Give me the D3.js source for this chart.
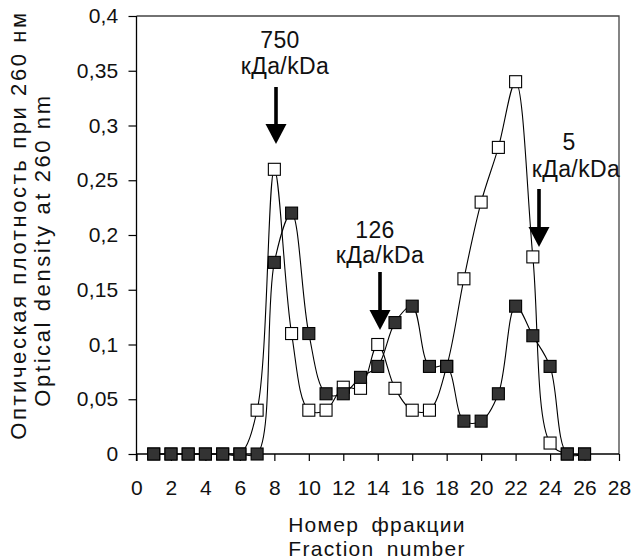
<!DOCTYPE html>
<html>
<head>
<meta charset="utf-8">
<script src="https://cdn.jsdelivr.net/npm/d3@7"></script>
<style>
  html, body { margin: 0; padding: 0; background: #fff; }
  svg { display: block; }
  text { font-family: "Liberation Sans", Arial, sans-serif; fill: #111; }
</style>
</head>
<body>
<svg id="chart" width="632" height="560"></svg>
<script>
// ---- data ----
const fractions = [1,2,3,4,5,6,7,8,9,10,11,12,13,14,15,16,17,18,19,20,21,22,23,24,25,26];
const openSeries = [0,0,0,0,0,0,0.04,0.26,0.11,0.04,0.04,0.061,0.06,0.1,0.06,0.04,0.04,0.08,0.16,0.23,0.28,0.34,0.18,0.01,0,0];
const filledSeries = [0,0,0,0,0,0,0,0.175,0.22,0.11,0.055,0.055,0.07,0.08,0.12,0.135,0.08,0.08,0.03,0.03,0.055,0.135,0.108,0.08,0,0];
const xTicks = [0,2,4,6,8,10,12,14,16,18,20,22,24,26,28];
const yTicks = [0,0.05,0.1,0.15,0.2,0.25,0.3,0.35,0.4];
const yTickLabels = ["0","0,05","0,1","0,15","0,2","0,25","0,3","0,35","0,4"];
const markers = [
  {x: 8.05, label: "750", unit: "кДа/kDa"},
  {x: 14.1, label: "126", unit: "кДа/kDa"},
  {x: 23.4, label: "5", unit: "кДа/kDa"}
];
const xTitle = ["Номер фракции", "Fraction number"];
const yTitle = ["Оптическая плотность при 260 нм", "Optical density at 260 nm"];

// ---- layout ----
const svg = d3.select("#chart");
const L = 136.5, R = 619, T = 16, B = 454;
const x = d3.scaleLinear().domain([0, 28]).range([L, R]);
const y = d3.scaleLinear().domain([0, 0.4]).range([B, T]);
const FONT = "Liberation Sans, Arial, sans-serif";

// frame (top & right)
svg.append("path")
  .attr("d", `M${L},${T}H${R}V${B}`)
  .attr("fill", "none").attr("stroke", "#444").attr("stroke-width", 1.3);

// y axis
const yAxis = d3.axisLeft(y).tickValues(yTicks).tickSize(8).tickPadding(10)
  .tickFormat((d, i) => yTickLabels[i]);
const gy = svg.append("g").attr("transform", `translate(${L},0)`).call(yAxis);
gy.select(".domain").attr("d", `M0,${T}V${B + 7}`).attr("stroke", "#000").attr("stroke-width", 1.3);
gy.selectAll(".tick line").attr("stroke", "#000").attr("stroke-width", 1.2);
gy.selectAll(".tick text").attr("font-size", 21).attr("letter-spacing", 0.2)
  .attr("font-family", FONT).attr("fill", "#111");

// x axis
const xAxis = d3.axisBottom(x).tickValues(xTicks).tickSize(7).tickPadding(19).tickFormat(d => d);
const gx = svg.append("g").attr("transform", `translate(0,${B})`).call(xAxis);
gx.select(".domain").attr("d", `M${L},0H${R}`).attr("stroke", "#000").attr("stroke-width", 1.3);
gx.selectAll(".tick line").attr("stroke", "#000").attr("stroke-width", 1.2);
gx.selectAll(".tick text").attr("font-size", 21).attr("letter-spacing", 0.2)
  .attr("font-family", FONT).attr("fill", "#111");

// axis titles
svg.append("g").selectAll("text").data(xTitle).join("text")
  .attr("x", 377).attr("y", (d, i) => 532 + i * 24)
  .attr("text-anchor", "middle").attr("font-size", 21).attr("letter-spacing", 1.3)
  .attr("word-spacing", 5)
  .text(d => d);
svg.append("g").attr("transform", "rotate(-90)")
  .selectAll("text").data(yTitle).join("text")
  .attr("x", (d, i) => i === 0 ? -225 : -250).attr("y", (d, i) => 26 + i * 24)
  .attr("text-anchor", "middle").attr("font-size", 22).attr("letter-spacing", 2.6)
  .text(d => d);

// series
const line = d3.line().x((d, i) => x(fractions[i])).y(d => y(d)).curve(d3.curveCatmullRom.alpha(0.5));
function drawSeries(values, fill) {
  const g = svg.append("g");
  g.append("path").attr("d", line(values)).attr("fill", "none").attr("stroke", "#000").attr("stroke-width", 1.1);
  g.selectAll("rect").data(values).join("rect")
    .attr("x", (d, i) => x(fractions[i]) - 6).attr("y", d => y(d) - 6)
    .attr("width", 12).attr("height", 12)
    .attr("fill", fill).attr("stroke", "#000").attr("stroke-width", 1.1);
}
drawSeries(openSeries, "#fff");
drawSeries(filledSeries, "#333");

// annotations
const ann = [
  {lx: 280, ly: 48, ux: 285, uy: 74, ax: 276, top: 87, tip: 144},
  {lx: 375, ly: 238, ux: 380, uy: 263, ax: 380, top: 272, tip: 330},
  {lx: 569, ly: 150, ux: 576, uy: 177, ax: 539, top: 189, tip: 247}
];
markers.forEach((m, i) => {
  const a = ann[i];
  svg.append("text").attr("x", a.lx).attr("y", a.ly).attr("text-anchor", "middle")
    .attr("font-size", 23).attr("letter-spacing", 0.4).text(m.label);
  svg.append("text").attr("x", a.ux).attr("y", a.uy).attr("text-anchor", "middle")
    .attr("font-size", 23).attr("letter-spacing", 0.4).text(m.unit);
  const hb = a.tip - 20;
  svg.append("rect").attr("x", a.ax - 1.8).attr("y", a.top).attr("width", 3.6).attr("height", hb - a.top + 1).attr("fill", "#000");
  svg.append("path").attr("d", `M${a.ax - 10.5},${hb}L${a.ax + 10.5},${hb}L${a.ax},${a.tip}Z`).attr("fill", "#000");
});
</script>
</body>
</html>
